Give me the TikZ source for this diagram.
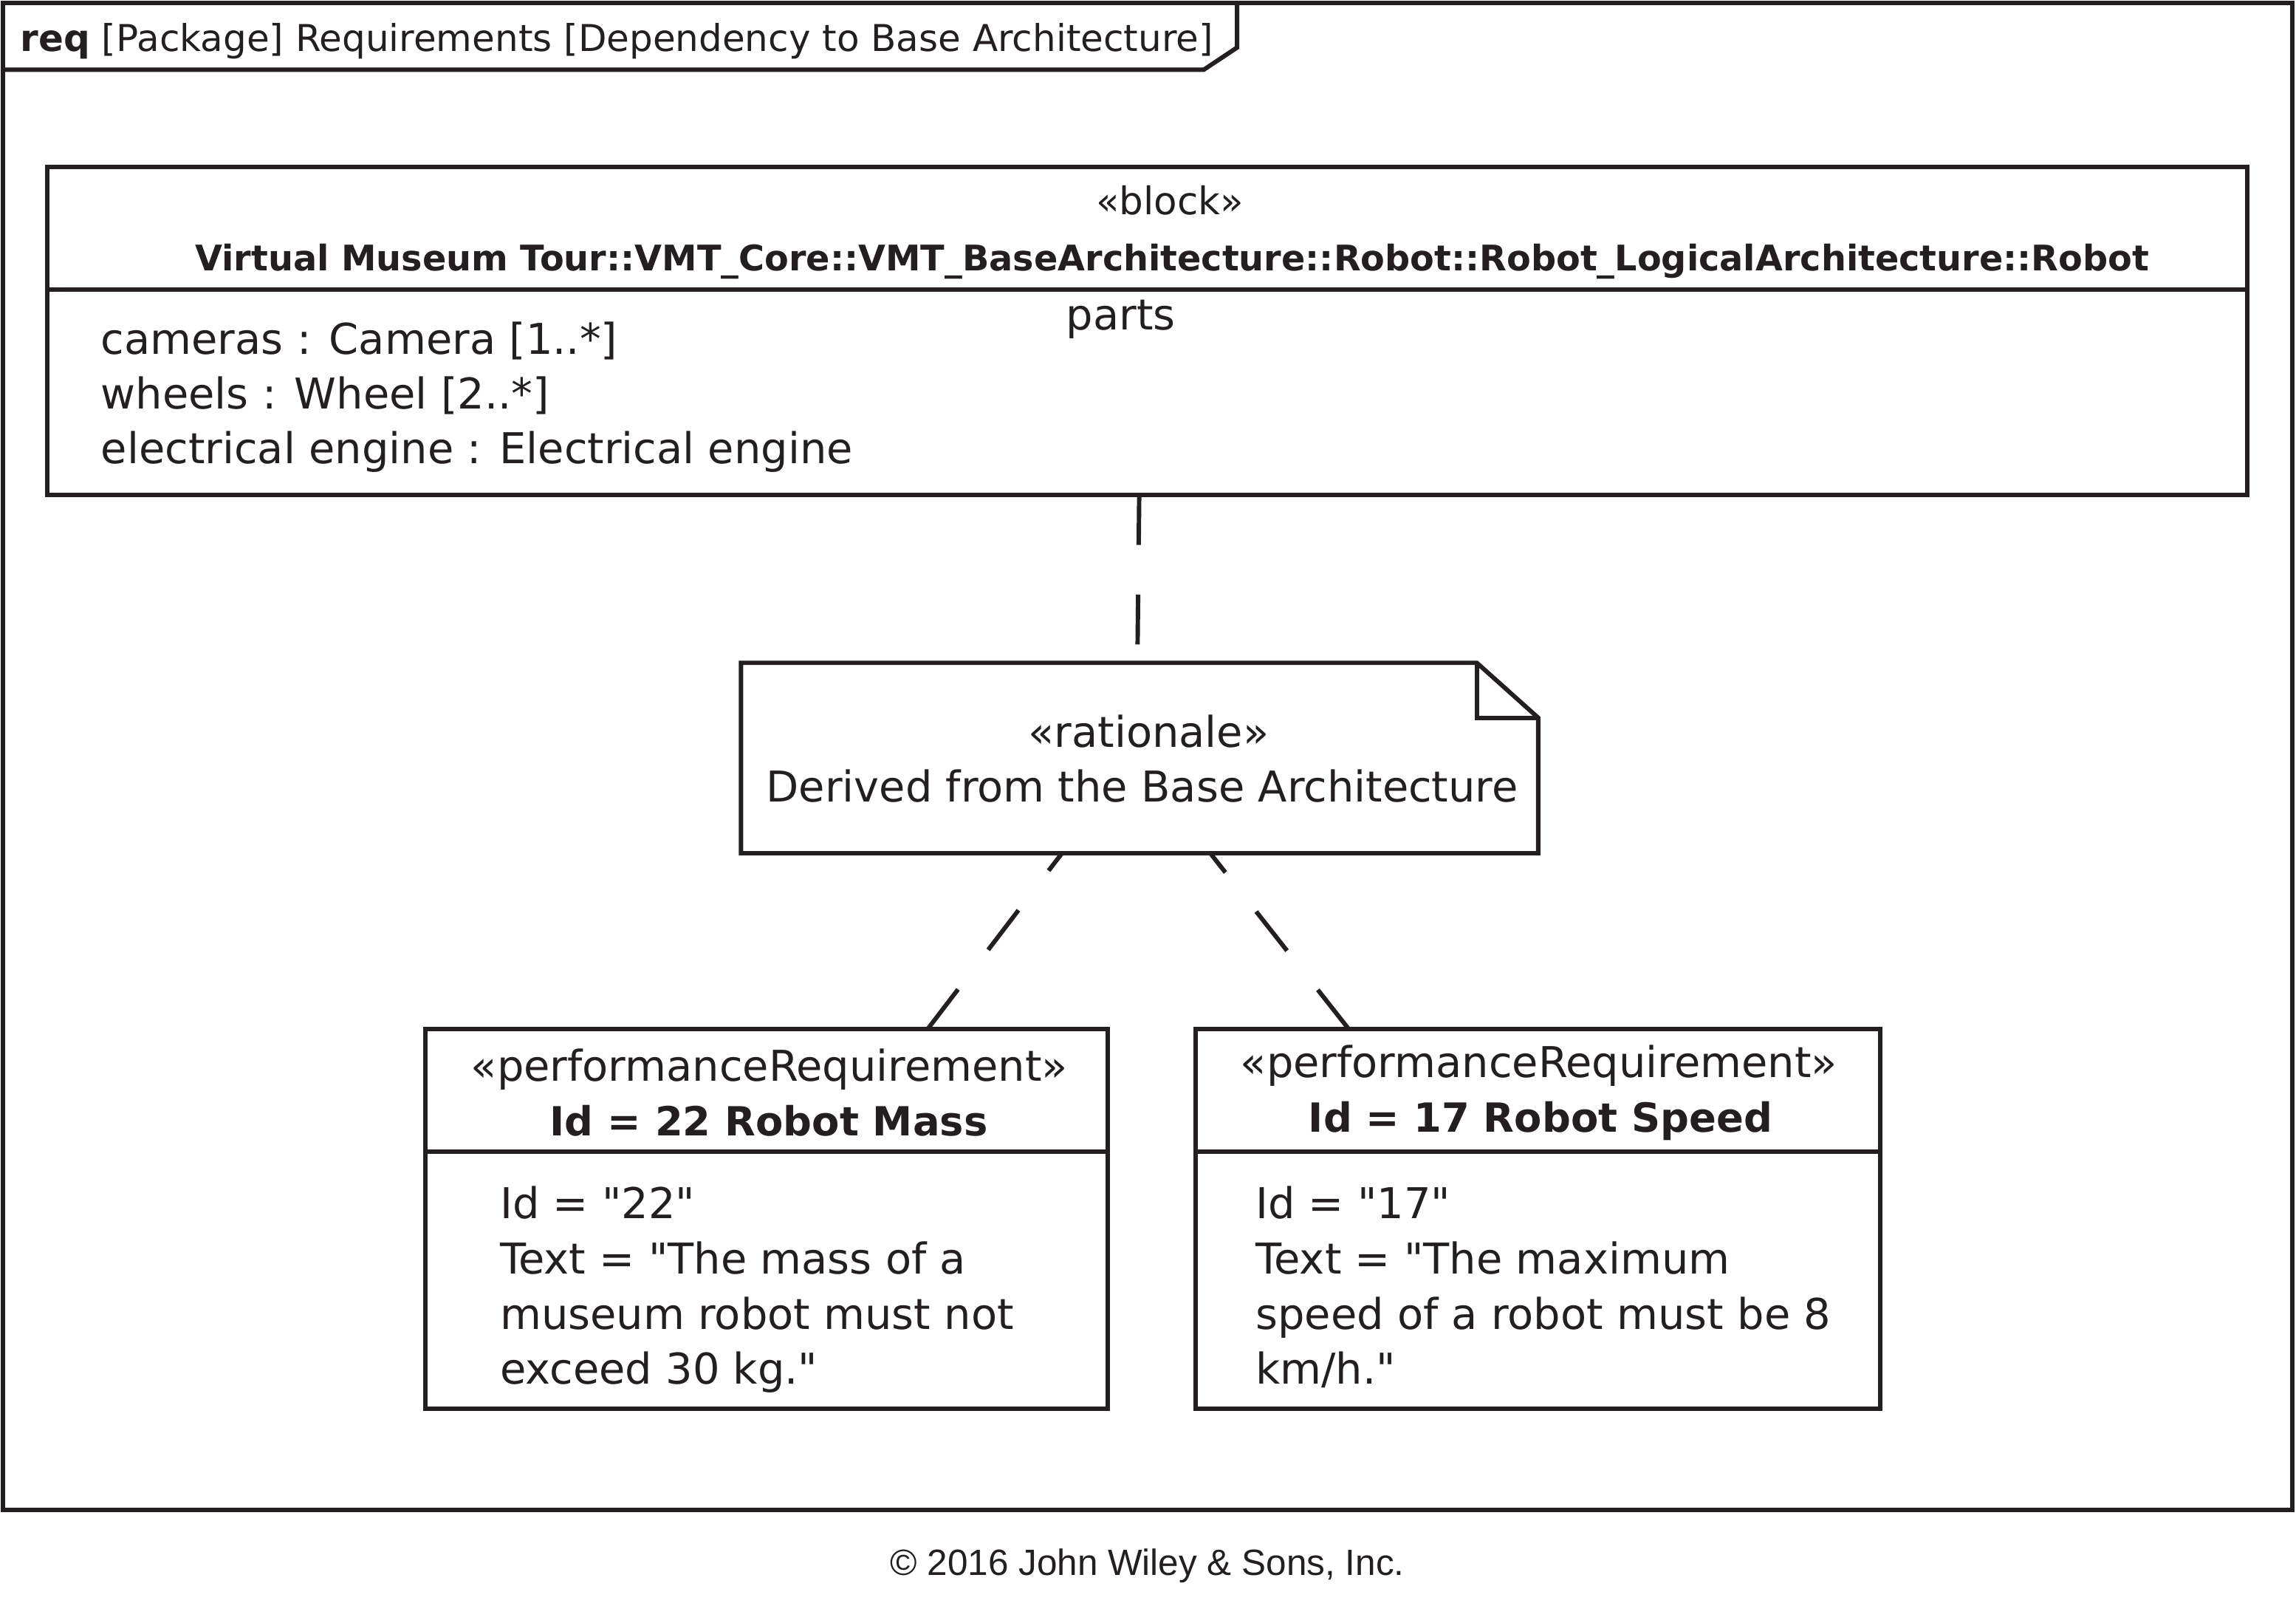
\documentclass[tikz,border=0pt]{standalone}
\usepackage{fontspec}
\setmainfont{DejaVu Sans}[Ligatures=TeXOff]
\newfontfamily\wileyfont{Liberation Sans}
\usetikzlibrary{calc}
\definecolor{ink}{HTML}{231F20}
\newcommand\setfs[1]{\fontsize{#1pt}{#1pt}\selectfont}
\begin{document}
\begin{tikzpicture}[x=0.02cm,y=-0.02cm,color=ink,line width=1.7pt]
\tikzstyle{every node}=[inner sep=0pt,outer sep=0pt,text=ink]
\tikzstyle{umlbox}=[draw,rectangle]
\tikzstyle{dep}=[dash pattern=on 0.68cm off 0.68cm]
\useasboundingbox (0,0) rectangle (1568,1106);
% diagram frame
\node[umlbox,minimum width=31.27cm,minimum height=20.58cm] at (783.75,516.25) (frm) {};
\draw (frm.north west) ++(0,45.7) -- ++(820,0) -- ++(22.7,-15.1) -- ++(0,-30.6);
\node[anchor=base west] at (14,35) (ttl) {\setfs{14.35}\textbf{req} [Package] Requirements [Dependency to Base Architecture]};
% block
\node[umlbox,minimum width=30.05cm,minimum height=4.48cm] at (783.5,226) (blk) {};
\draw ($(blk.north west)+(0,83.8)$) -- ($(blk.north east)+(0,83.8)$);
\node[anchor=base] at (799,146.5) (blkst) {\setfs{14.8}«block»};
\node[anchor=base] at (800.5,184.6) (blkname) {\setfs{13.7}\bfseries Virtual Museum Tour::VMT\_Core::VMT\_BaseArchitecture::Robot::Robot\_LogicalArchitecture::Robot};
\node[anchor=base] at (765.5,225) (parts) {\setfs{16.5}parts};
\node[anchor=base west] at (69,242) (cam) {\setfs{16.5}cameras : Camera [1..*]};
\node[anchor=base west] at (69,279) (whl) {\setfs{16.5}wheels : Wheel [2..*]};
\node[anchor=base west] at (69,316.5) (eng) {\setfs{16.5}electrical engine : Electrical engine};
% rationale note
\node[minimum width=10.89cm,minimum height=2.6cm] at (778.25,517.5) (note) {};
\draw (note.south west) -- (note.north west) -- ($(note.north east)+(-41.9,0)$)
      -- ($(note.north east)+(0,37.5)$) -- (note.south east) -- cycle;
\draw ($(note.north east)+(-41.9,0)$) -- ($(note.north east)+(-41.9,37.5)$) -- ($(note.north east)+(0,37.5)$);
\node[anchor=base] at (784.5,510) (notest) {\setfs{16.5}«rationale»};
\node[anchor=base] at (780,547.7) (notetx) {\setfs{16.5}Derived from the Base Architecture};
% requirements
\node[umlbox,minimum width=9.32cm,minimum height=5.19cm] at (523.6,832.2) (rm) {};
\draw ($(rm.north west)+(0,83.6)$) -- ($(rm.north east)+(0,83.6)$);
\node[anchor=base] at (525.5,738) (rmst) {\setfs{16.5}«performanceRequirement»};
\node[anchor=base] at (525,775.6) (rmname) {\setfs{15.6}\bfseries Id = 22 Robot Mass};
\node[anchor=base west] at (341.5,831.8) (rm1) {\setfs{16.5}Id = "22"};
\node[anchor=base west] at (341.5,869.5) (rm2) {\setfs{16.5}Text = "The mass of a};
\node[anchor=base west] at (341.5,907.4) (rm3) {\setfs{16.5}museum robot must not};
\node[anchor=base west] at (341.5,945) (rm4) {\setfs{16.5}exceed 30 kg."};
\node[umlbox,minimum width=9.35cm,minimum height=5.19cm] at (1050.3,832.2) (rs) {};
\draw ($(rs.north west)+(0,83.6)$) -- ($(rs.north east)+(0,83.6)$);
\node[anchor=base] at (1051,735.8) (rsst) {\setfs{16.5}«performanceRequirement»};
\node[anchor=base] at (1052,773) (rsname) {\setfs{15.6}\bfseries Id = 17 Robot Speed};
\node[anchor=base west] at (857.5,831.8) (rs1) {\setfs{16.5}Id = "17"};
\node[anchor=base west] at (857.5,869.5) (rs2) {\setfs{16.5}Text = "The maximum};
\node[anchor=base west] at (857.5,907.4) (rs3) {\setfs{16.5}speed of a robot must be 8};
\node[anchor=base west] at (857.5,945) (rs4) {\setfs{16.5}km/h."};
% dependencies
\draw[dep] ($(blk.south)+(-5.5,0)$) -- ($(note.north)+(-1.5,0)$);
\draw[dep] ($(rm.north)+(110,0)$) -- ($(note.south)+(-53,0)$);
\draw[dep] ($(rs.north)+(-129.3,0)$) -- ($(note.south)+(48.25,0)$);
\node[anchor=base] at (783.5,1075.5) (copy) {\wileyfont\setfs{14.2}© 2016 John Wiley \& Sons, Inc.};
\end{tikzpicture}
\end{document}
